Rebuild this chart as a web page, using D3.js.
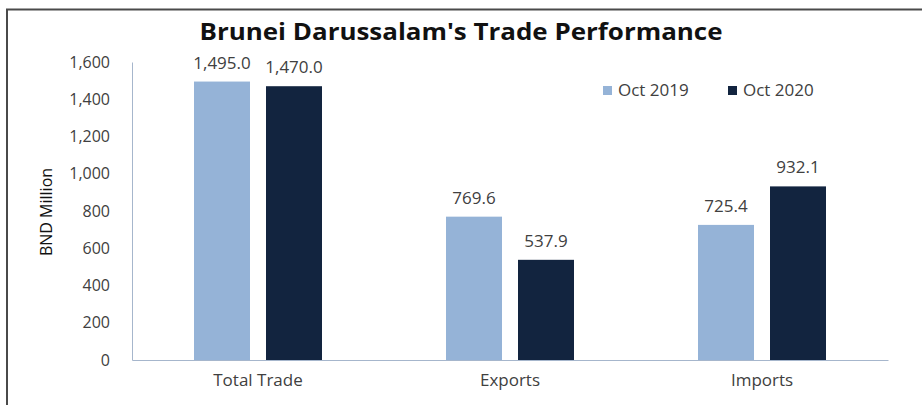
<!DOCTYPE html>
<html>
<head>
<meta charset="utf-8">
<script src="https://cdn.jsdelivr.net/npm/d3@7"></script>
<style>
  body { margin: 0; background: #fff; }
  svg text { font-family: "Open Sans", "Noto Sans", sans-serif; fill: #404040; }
</style>
</head>
<body>
<svg id="chart" width="922" height="405"></svg>
<script>
const categories = ["Total Trade", "Exports", "Imports"];
const seriesNames = ["Oct 2019", "Oct 2020"];
const oct2019 = [1495.0, 769.6, 725.4];
const oct2020 = [1470.0, 537.9, 932.1];
const yTicks = [0, 200, 400, 600, 800, 1000, 1200, 1400, 1600];
const colors = ["#95b3d7", "#12243f"];

const svg = d3.select("#chart");
const plotLeft = 132, plotRight = 888, plotTop = 62, plotBottom = 360;

// outer frame, only the top and left edges show in the picture
svg.append("path")
  .attr("d", `M7,405 V9.5 H922`)
  .attr("fill", "none")
  .attr("stroke", "#4a4a4a")
  .attr("stroke-width", 2);

svg.append("text")
  .attr("x", 461)
  .attr("y", 40)
  .attr("text-anchor", "middle")
  .attr("textLength", 523)
  .attr("lengthAdjust", "spacingAndGlyphs")
  .style("font-size", "23.5px")
  .style("font-weight", "bold")
  .style("fill", "#111")
  .text("Brunei Darussalam's Trade Performance");

const y = d3.scaleLinear().domain([0, 1600]).range([plotBottom, plotTop]);
const x0 = d3.scaleBand().domain(categories).range([plotLeft, plotRight]);
const x1 = d3.scaleBand().domain(seriesNames)
  .range([(x0.bandwidth() - 128) / 2, (x0.bandwidth() + 128) / 2])
  .paddingInner(16 / 72);

const yAxis = svg.append("g")
  .attr("transform", `translate(${plotLeft},0)`)
  .call(d3.axisLeft(y).tickValues(yTicks).tickSize(0).tickPadding(22).tickFormat(d3.format(",")));
yAxis.select(".domain").attr("stroke", "#a6b6cc");
yAxis.selectAll("text").style("font-size", "16px");

const xAxis = svg.append("g")
  .attr("transform", `translate(0,${plotBottom})`)
  .call(d3.axisBottom(x0).tickSize(0).tickPadding(14));
xAxis.select(".domain").attr("stroke", "#a6b6cc");
xAxis.selectAll("text").style("font-size", "17px");

svg.append("text")
  .attr("transform", `translate(52,212) rotate(-90)`)
  .attr("text-anchor", "middle")
  .style("font-size", "16px")
  .style("fill", "#111")
  .text("BND Million");

const rows = categories.map((c, i) => ({ cat: c, vals: [oct2019[i], oct2020[i]] }));
const fmt = d3.format(",.1f");

const groups = svg.selectAll("g.grp")
  .data(rows)
  .join("g")
  .attr("class", "grp")
  .attr("transform", (d) => `translate(${x0(d.cat)},0)`);

groups.selectAll("rect")
  .data((d) => d.vals.map((v, j) => ({ s: seriesNames[j], v, j })))
  .join("rect")
  .attr("x", (d) => x1(d.s))
  .attr("width", x1.bandwidth())
  .attr("y", (d) => y(d.v))
  .attr("height", (d) => plotBottom - y(d.v))
  .attr("fill", (d) => colors[d.j]);

groups.selectAll("text.lbl")
  .data((d) => d.vals.map((v, j) => ({ s: seriesNames[j], v, j })))
  .join("text")
  .attr("class", "lbl")
  .attr("x", (d) => x1(d.s) + x1.bandwidth() / 2)
  .attr("y", (d) => y(d.v) - 13)
  .attr("text-anchor", "middle")
  .style("font-size", "17px")
  .text((d) => fmt(d.v));

const legend = svg.append("g").attr("transform", "translate(603,90)");
seriesNames.forEach((s, i) => {
  const g = legend.append("g").attr("transform", `translate(${i * 125},0)`);
  g.append("rect").attr("x", 0).attr("y", -4).attr("width", 9).attr("height", 9).attr("fill", colors[i]);
  g.append("text").attr("x", 15).attr("y", 6).style("font-size", "17px").text(s);
});
</script>
</body>
</html>
